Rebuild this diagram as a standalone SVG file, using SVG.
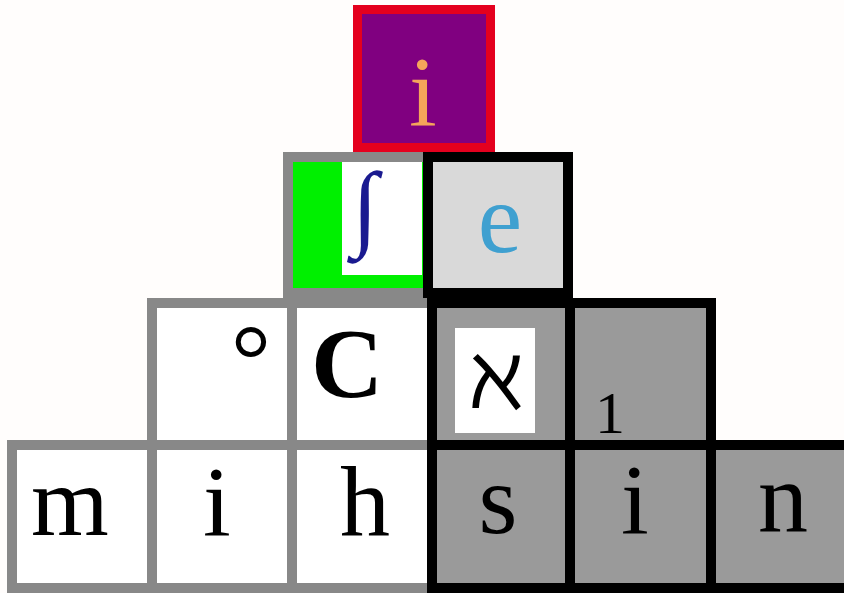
<svg xmlns="http://www.w3.org/2000/svg" width="844" height="593" viewBox="0 0 844 593">
<style>
.t{font-family:"Liberation Serif","Times New Roman",serif;font-size:100px;text-anchor:middle;fill:#000}
.g{stroke:#888;stroke-width:10}
.k{stroke:#000;stroke-width:10}
.w{fill:#fff}
.d{fill:#9a9a9a}
</style>
<rect width="844" height="593" fill="#fffdfc"/>
<g id="top-i">
<rect x="357.5" y="9.5" width="133" height="138" fill="#800080" stroke="#e4001e" stroke-width="9"/>
<text class="t" x="423" y="125" style="fill:#f5a55a">i</text>
</g>
<g id="integral">
<rect x="288" y="157" width="140" height="136" fill="#00f000"/>
<rect x="342" y="153" width="80" height="122" fill="#fff"/>
<rect x="288" y="157" width="140" height="136" fill="none" class="g"/>
<text class="t" x="365" y="238" style="fill:#1a1a90;font-size:95px">∫</text>
</g>
<g id="e">
<rect x="428" y="157" width="140" height="136" fill="#d9d9d9" class="k"/>
<text class="t" x="500" y="252" style="fill:#3fa0d0">e</text>
</g>
<g id="degree">
<rect x="152" y="303" width="140" height="142" class="w g"/>
<text class="t" x="251" y="393">°</text>
</g>
<g id="C">
<rect x="292" y="303" width="140" height="142" class="w g"/>
<text class="t" x="347" y="397" style="font-weight:bold">C</text>
</g>
<g id="m">
<rect x="12" y="445" width="140" height="143" class="w g"/>
<text class="t" x="70" y="535">m</text>
</g>
<g id="i1">
<rect x="152" y="445" width="140" height="143" class="w g"/>
<text class="t" x="217" y="535">i</text>
</g>
<g id="h">
<rect x="292" y="445" width="140" height="143" class="w g"/>
<text class="t" x="365" y="535">h</text>
</g>
<g id="aleph">
<rect x="432" y="303" width="138" height="142" class="d k"/>
<rect x="455" y="328" width="80" height="105" fill="#fff"/>
<text class="t" x="496" y="408" style="font-family:'Liberation Serif','DejaVu Serif',serif;font-size:90px">ℵ</text>
</g>
<g id="one">
<rect x="570" y="303" width="141" height="142" class="d k"/>
<text class="t" x="610" y="433" style="font-size:60px">1</text>
</g>
<g id="s">
<rect x="432" y="445" width="138" height="143" class="d k"/>
<text class="t" x="498" y="533">s</text>
</g>
<g id="i2">
<rect x="570" y="445" width="141" height="143" class="d k"/>
<text class="t" x="635" y="533">i</text>
</g>
<g id="n">
<rect x="711" y="445" width="140" height="143" class="d k"/>
<text class="t" x="783" y="531">n</text>
</g>
<g id="connectors"/>
</svg>
